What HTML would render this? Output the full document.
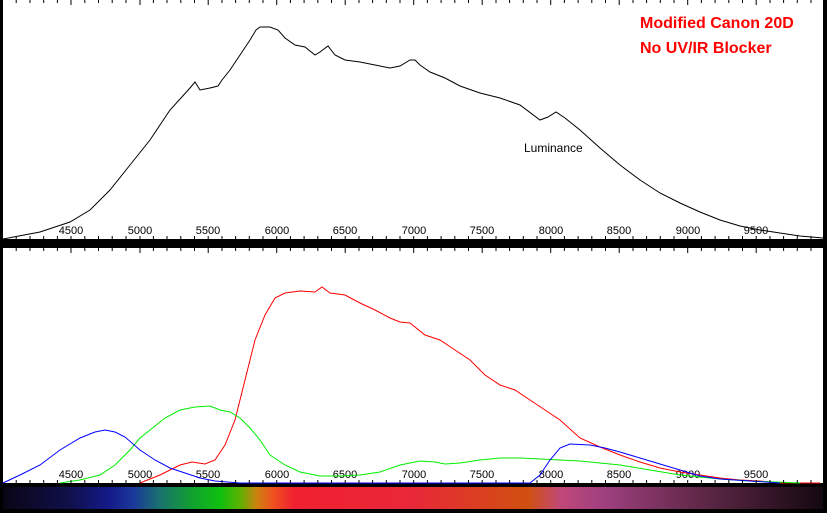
<!DOCTYPE html>
<html><head><style>
html,body{margin:0;padding:0;background:#000;width:827px;height:513px;overflow:hidden}
svg{display:block}
text{font-family:"Liberation Sans",sans-serif}
</style></head><body>
<svg width="827" height="513" xmlns="http://www.w3.org/2000/svg">
<defs>
<linearGradient id="sp" x1="3" x2="823" y1="0" y2="0" gradientUnits="userSpaceOnUse">
<stop offset="0" stop-color="#0a0515"/>
<stop offset="0.08" stop-color="#10104a"/>
<stop offset="0.13" stop-color="#151a8a"/>
<stop offset="0.16" stop-color="#1a3a9a"/>
<stop offset="0.19" stop-color="#1a7070"/>
<stop offset="0.23" stop-color="#10a030"/>
<stop offset="0.265" stop-color="#10c010"/>
<stop offset="0.29" stop-color="#60b000"/>
<stop offset="0.31" stop-color="#d08010"/>
<stop offset="0.33" stop-color="#f05020"/>
<stop offset="0.355" stop-color="#f02030"/>
<stop offset="0.5" stop-color="#e82838"/>
<stop offset="0.64" stop-color="#d05010"/>
<stop offset="0.68" stop-color="#c04878"/>
<stop offset="0.73" stop-color="#a04080"/>
<stop offset="0.85" stop-color="#602848"/>
<stop offset="1" stop-color="#140810"/>
</linearGradient>
</defs>
<rect x="3" y="0" width="820" height="239" fill="#fff"/>
<rect x="3" y="248" width="820" height="235" fill="#fff"/>
<rect x="3" y="487" width="820" height="22" fill="url(#sp)"/>
<g stroke="#000" stroke-width="1" id="ticks">
<path d="M"/>
</g>
<g stroke="#000" stroke-width="1">
<!-- generated ticks -->
<script type="text/plain"></script>
</g>
<g id="tk"></g>
<text x="71" y="234" font-size="11" text-anchor="middle">4500</text>
<text x="140" y="234" font-size="11" text-anchor="middle">5000</text>
<text x="208" y="234" font-size="11" text-anchor="middle">5500</text>
<text x="277" y="234" font-size="11" text-anchor="middle">6000</text>
<text x="345" y="234" font-size="11" text-anchor="middle">6500</text>
<text x="414" y="234" font-size="11" text-anchor="middle">7000</text>
<text x="482" y="234" font-size="11" text-anchor="middle">7500</text>
<text x="551" y="234" font-size="11" text-anchor="middle">8000</text>
<text x="619" y="234" font-size="11" text-anchor="middle">8500</text>
<text x="688" y="234" font-size="11" text-anchor="middle">9000</text>
<text x="756" y="234" font-size="11" text-anchor="middle">9500</text>
<text x="71" y="478" font-size="11" text-anchor="middle">4500</text>
<text x="140" y="478" font-size="11" text-anchor="middle">5000</text>
<text x="208" y="478" font-size="11" text-anchor="middle">5500</text>
<text x="277" y="478" font-size="11" text-anchor="middle">6000</text>
<text x="345" y="478" font-size="11" text-anchor="middle">6500</text>
<text x="414" y="478" font-size="11" text-anchor="middle">7000</text>
<text x="482" y="478" font-size="11" text-anchor="middle">7500</text>
<text x="551" y="478" font-size="11" text-anchor="middle">8000</text>
<text x="619" y="478" font-size="11" text-anchor="middle">8500</text>
<text x="688" y="478" font-size="11" text-anchor="middle">9000</text>
<text x="756" y="478" font-size="11" text-anchor="middle">9500</text>
<text x="524" y="152" font-size="12">Luminance</text>
<text x="640" y="28" font-size="16" font-weight="bold" fill="#f00">Modified Canon 20D</text>
<text x="640" y="53" font-size="16" font-weight="bold" fill="#f00">No UV/IR Blocker</text>
<polyline fill="none" stroke="#000" stroke-width="1" points="3,239 40,232 70,222 90,210 110,190 130,165 150,140 170,110 190,88 195,82 200,90 210,88 218,86 222,80 230,70 240,55 250,40 256,30 260,27 270,27 278,30 285,38 295,45 305,47 315,55 320,52 328,46 335,55 345,60 360,62 375,65 390,68 400,66 410,60 415,60 420,65 430,72 445,78 460,86 480,93 500,98 520,105 540,120 548,117 556,112 565,118 580,130 600,148 620,165 640,180 660,193 680,203 700,212 720,220 740,226 760,230 780,233 800,236 823,238"/>
<polyline fill="none" stroke="#f00" stroke-width="1" points="140,483 160,475 180,465 192,462 205,464 215,460 225,445 235,420 245,380 255,340 265,315 275,298 285,293 300,291 315,292 322,287 330,293 345,295 360,303 375,310 390,318 400,322 410,323 425,335 440,340 455,350 470,360 485,375 500,385 515,390 530,400 545,410 560,420 580,438 600,447 620,455 640,462 660,468 680,472 700,475 720,478 740,480 760,481 780,483 820,483"/>
<polyline fill="none" stroke="#0e0" stroke-width="1" points="60,483 80,480 100,475 115,465 130,450 140,438 150,430 165,418 180,410 195,407 210,406 220,410 230,412 240,418 250,428 260,440 270,455 285,465 300,472 320,476 340,476 360,475 380,472 400,465 420,461 435,462 445,464 460,463 480,460 500,458 520,458 540,459 560,460 580,461 600,463 620,465 650,470 680,475 700,477 720,479 750,481 800,483"/>
<polyline fill="none" stroke="#00f" stroke-width="1" points="3,483 20,475 40,465 60,450 80,438 95,432 105,430 115,432 125,437 140,450 155,460 170,468 185,473 200,478 215,481 240,483 530,483 540,475 550,460 560,448 570,444 590,445 605,448 620,452 640,458 660,464 680,470 700,476 720,479 750,481 780,483"/>
<g stroke="#000" stroke-width="1">
<path d="M16.2,0v3M30,0v3M43.7,0v3M57.4,0v3M71,0v5M84.8,0v3M98.5,0v3M112.2,0v3M126,0v3M140,0v5M153.4,0v3M167,0v3M180.8,0v3M194.5,0v3M208.2,0v5M222,0v3M235.6,0v3M249.3,0v3M263,0v3M276.7,0v5M290.4,0v3M304.1,0v3M317.8,0v3M331.5,0v3M345.2,0v5M359,0v3M372.6,0v3M386.3,0v3M400,0v3M413.7,0v5M427.4,0v3M441.1,0v3M454.8,0v3M468.5,0v3M482.2,0v5M496,0v3M509.6,0v3M523.3,0v3M537,0v3M550.7,0v5M564.4,0v3M578.1,0v3M591.8,0v3M605.5,0v3M619.2,0v5M633,0v3M646.6,0v3M660.3,0v3M674,0v3M687.7,0v5M701.4,0v3M715.1,0v3M728.8,0v3M742.5,0v3M756.2,0v5M770,0v3M783.6,0v3M797.3,0v3M811,0v3"/>
<path transform="translate(0,236)" d="M16.2,0v3M30,0v3M43.7,0v3M57.4,0v3M71,0v3M84.8,0v3M98.5,0v3M112.2,0v3M126,0v3M140,0v3M153.4,0v3M167,0v3M180.8,0v3M194.5,0v3M208.2,0v3M222,0v3M235.6,0v3M249.3,0v3M263,0v3M276.7,0v3M290.4,0v3M304.1,0v3M317.8,0v3M331.5,0v3M345.2,0v3M359,0v3M372.6,0v3M386.3,0v3M400,0v3M413.7,0v3M427.4,0v3M441.1,0v3M454.8,0v3M468.5,0v3M482.2,0v3M496,0v3M509.6,0v3M523.3,0v3M537,0v3M550.7,0v3M564.4,0v3M578.1,0v3M591.8,0v3M605.5,0v3M619.2,0v3M633,0v3M646.6,0v3M660.3,0v3M674,0v3M687.7,0v3M701.4,0v3M715.1,0v3M728.8,0v3M742.5,0v3M756.2,0v3M770,0v3M783.6,0v3M797.3,0v3M811,0v3"/>
<path transform="translate(0,248)" d="M16.2,0v3M30,0v3M43.7,0v3M57.4,0v3M71,0v5M84.8,0v3M98.5,0v3M112.2,0v3M126,0v3M140,0v5M153.4,0v3M167,0v3M180.8,0v3M194.5,0v3M208.2,0v5M222,0v3M235.6,0v3M249.3,0v3M263,0v3M276.7,0v5M290.4,0v3M304.1,0v3M317.8,0v3M331.5,0v3M345.2,0v5M359,0v3M372.6,0v3M386.3,0v3M400,0v3M413.7,0v5M427.4,0v3M441.1,0v3M454.8,0v3M468.5,0v3M482.2,0v5M496,0v3M509.6,0v3M523.3,0v3M537,0v3M550.7,0v5M564.4,0v3M578.1,0v3M591.8,0v3M605.5,0v3M619.2,0v5M633,0v3M646.6,0v3M660.3,0v3M674,0v3M687.7,0v5M701.4,0v3M715.1,0v3M728.8,0v3M742.5,0v3M756.2,0v5M770,0v3M783.6,0v3M797.3,0v3M811,0v3"/>
<path transform="translate(0,480)" d="M16.2,0v3M30,0v3M43.7,0v3M57.4,0v3M71,0v3M84.8,0v3M98.5,0v3M112.2,0v3M126,0v3M140,0v3M153.4,0v3M167,0v3M180.8,0v3M194.5,0v3M208.2,0v3M222,0v3M235.6,0v3M249.3,0v3M263,0v3M276.7,0v3M290.4,0v3M304.1,0v3M317.8,0v3M331.5,0v3M345.2,0v3M359,0v3M372.6,0v3M386.3,0v3M400,0v3M413.7,0v3M427.4,0v3M441.1,0v3M454.8,0v3M468.5,0v3M482.2,0v3M496,0v3M509.6,0v3M523.3,0v3M537,0v3M550.7,0v3M564.4,0v3M578.1,0v3M591.8,0v3M605.5,0v3M619.2,0v3M633,0v3M646.6,0v3M660.3,0v3M674,0v3M687.7,0v3M701.4,0v3M715.1,0v3M728.8,0v3M742.5,0v3M756.2,0v3M770,0v3M783.6,0v3M797.3,0v3M811,0v3"/>
</g>
</svg>
</body></html>
